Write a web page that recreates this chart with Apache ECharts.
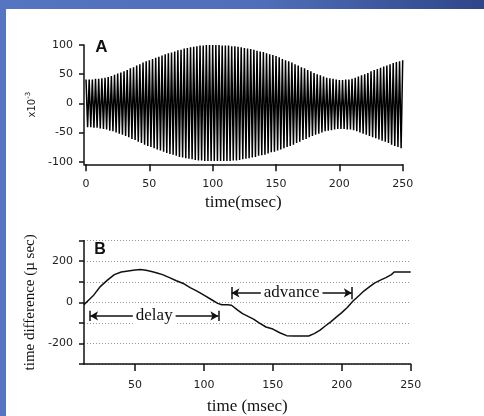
<!DOCTYPE html>
<html><head><meta charset="utf-8">
<script src="https://cdn.jsdelivr.net/npm/echarts@6/dist/echarts.min.js"></script>
<style>
html,body{margin:0;padding:0;width:484px;height:416px;overflow:hidden;}
body{background:linear-gradient(90deg,#5675c0 0%,#4f6db8 55%,#2f4688 100%);}
#panel{position:absolute;left:6px;top:9px;width:478px;height:407px;background:#fff;}
#chart{position:absolute;left:0;top:0;width:484px;height:416px;}
</style></head><body><div id="panel"></div><div id="chart"></div>
<script>
// Panel A: oscillation peaks (x10^-3), one peak every half stripe
var peakStep = 2.5; // ms between successive positive peaks
var upperPeaks = [
 41,41,41,42, 42,43,44,45, 47,49,51,53, 55,57,60,62, 65,67,70,72,
 74,76,78,80, 82,84,86,87, 89,91,92,94, 95,96,97,98, 99,99,100,100,
 100,100,100,99, 99,99,98,98, 97,96,95,94, 93,92,90,89, 88,86,84,83,
 81,79,76,74, 72,70,67,65, 62,60,57,55, 52,50,48,46, 44,43,42,41,
 40,40,41,41, 42,44,46,48, 50,52,55,57, 59,61,63,65, 67,69,71,72, 74
];
var lowerPeaks = [
 -41,-41,-42,-42, -43,-44,-45,-47, -48,-50,-52,-54, -56,-58,-61,-63, -66,-68,-71,-73,
 -75,-77,-79,-81, -83,-85,-87,-88, -90,-92,-93,-94, -95,-96,-97,-98, -98,-99,-99,-99,
 -99,-99,-99,-99, -99,-99,-98,-98, -97,-96,-95,-94, -93,-92,-90,-89, -88,-86,-84,-83,
 -81,-79,-77,-75, -73,-71,-68,-66, -63,-61,-58,-56, -54,-52,-50,-48, -47,-46,-45,-44,
 -44,-44,-45,-45, -46,-48,-50,-52, -54,-56,-58,-60, -62,-64,-66,-68, -71,-73,-75,-77
];
var aXTicks = [0,50,100,150,200,250];
var aYTicks = [-100,-50,0,50,100];

// Panel B: time difference (µsec) vs time (msec)
var bTime  = [13,17,20,25,30,35,40,45,50,54,58,62,66,70,75,80,85,90,95,100,105,110,113,117,120,124,128,132,136,140,145,150,155,160,165,170,176,180,184,188,192,196,200,204,208,212,216,220,224,228,232,236,238,242,246,250];
var bValue = [-11,15,35,78,108,135,148,153,157,160,156,150,143,135,120,105,92,72,55,35,15,-5,-12,-12,-14,-35,-55,-68,-82,-100,-120,-130,-148,-162,-164,-164,-164,-152,-136,-115,-95,-72,-50,-25,5,30,55,75,95,108,120,135,148,148,148,148];
var bXTicks = [50,100,150,200,250];
var bYLabels = [200,0,-200];
// annotation arrows (data coords)
var delayArrow   = {from:17.4, to:110.5, y:-66, barLow:-91, barHigh:-41};
var advanceArrow = {from:120, to:207.3, y:46, barLow:15, barHigh:75};

var waveData = [];
for (var i = 0; i < upperPeaks.length; i++) {
  waveData.push([i*peakStep, upperPeaks[i]]);
  if (i < lowerPeaks.length) waveData.push([i*peakStep + peakStep/2, lowerPeaks[i]]);
}
var bData = bTime.map(function(t,i){return [t,bValue[i]];});

var sans = 'DejaVu Sans', serif = 'Liberation Serif';
var axisLineStyle = {color:'#111', width:1.5};
function arrowItems(a, text){
  return [
    [{coord:[a.from,a.y], label:{show:true, formatter:text}}, {coord:[a.to,a.y]}],
    [{coord:[a.from,a.barLow], symbol:'none', label:{show:false}}, {coord:[a.from,a.barHigh], symbol:'none'}],
    [{coord:[a.to,a.barLow], symbol:'none', label:{show:false}}, {coord:[a.to,a.barHigh], symbol:'none'}]
  ];
}
var chart = echarts.init(document.getElementById('chart'), null, {renderer:'canvas'});
chart.setOption({
  animation:false,
  backgroundColor:'transparent',
  grid:[{left:84, top:45, width:318.7, height:119.3},{left:84, top:240.7, width:326.7, height:123.6}],
  graphic:[
    {type:'text', x:101.5, y:47, style:{text:'A', font:'bold 17px "Liberation Sans"', fill:'#111', align:'center', verticalAlign:'middle'}},
    {type:'text', x:100, y:249.5, style:{text:'B', font:'bold 16px "Liberation Sans"', fill:'#111', align:'center', verticalAlign:'middle'}}
  ],
  xAxis:[
    {type:'value', gridIndex:0, min:-1.6, max:250,
     axisLine:{show:true, onZero:false, lineStyle:axisLineStyle},
     axisTick:{show:true, length:7, customValues:aXTicks, lineStyle:axisLineStyle},
     axisLabel:{customValues:aXTicks, margin:14, fontFamily:sans, fontSize:11, color:'#222'},
     splitLine:{show:false},
     name:'time(msec)', nameLocation:'middle', nameGap:30,
     nameTextStyle:{fontFamily:serif, fontSize:17, color:'#111'}},
    {type:'value', gridIndex:1, min:13, max:250,
     axisLine:{show:true, onZero:false, lineStyle:axisLineStyle},
     axisTick:{show:true, length:7, customValues:bXTicks, lineStyle:axisLineStyle},
     axisLabel:{customValues:bXTicks, margin:16, fontFamily:sans, fontSize:11, color:'#222'},
     splitLine:{show:false},
     name:'time (msec)', nameLocation:'middle', nameGap:34,
     nameTextStyle:{fontFamily:serif, fontSize:17, color:'#111'}},
  ],
  yAxis:[
    {type:'value', gridIndex:0, min:-104.5, max:100,
     axisLine:{show:true, onZero:false, lineStyle:axisLineStyle},
     axisTick:{show:true, length:5, customValues:aYTicks, lineStyle:axisLineStyle},
     axisLabel:{customValues:aYTicks, margin:11, fontFamily:sans, fontSize:11, color:'#222'},
     splitLine:{show:false},
     name:'{a|x10}{b|-3}', nameLocation:'middle', nameGap:39,
     nameTextStyle:{rich:{a:{fontFamily:sans, fontSize:10, color:'#222'}, b:{fontFamily:sans, fontSize:7, color:'#222', padding:[0,0,7,0]}}}},
    {type:'value', gridIndex:1, min:-300, max:300, interval:100,
     axisLine:{show:true, onZero:false, lineStyle:axisLineStyle},
     axisTick:{show:true, length:5, lineStyle:axisLineStyle},
     axisLabel:{margin:11, fontFamily:sans, fontSize:11, color:'#222',
       formatter:function(v){return bYLabels.indexOf(v)>=0 ? String(v) : '';}},
     splitLine:{show:true, lineStyle:{color:'#999', width:1, type:[1,2]}},
     name:'time difference (µ sec)', nameLocation:'middle', nameGap:42,
     nameTextStyle:{fontFamily:serif, fontSize:15, color:'#111'}}
  ],
  series:[
    {type:'line', xAxisIndex:0, yAxisIndex:0, data:waveData, symbol:'none',
     lineStyle:{color:'#000', width:1.5}, silent:true},
    {type:'line', xAxisIndex:1, yAxisIndex:1, data:bData, symbol:'none',
     lineStyle:{color:'#111', width:1.5}, silent:true,
     markLine:{silent:true, symbol:['arrow','arrow'], symbolSize:[7,8],
       lineStyle:{color:'#111', width:1.5, type:'solid'},
       label:{position:'insideMiddle', distance:0, fontFamily:serif, fontSize:17, color:'#111', backgroundColor:'#fff', padding:[0,3]},
       data: arrowItems(delayArrow,'delay').concat(arrowItems(advanceArrow,'advance'))}}
  ]
});
</script></body></html>
